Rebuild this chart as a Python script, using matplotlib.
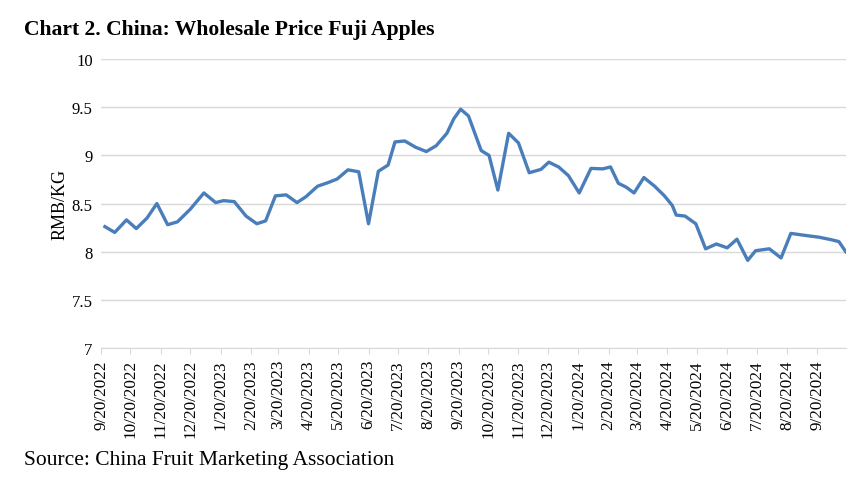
import matplotlib
matplotlib.use('Agg')
import matplotlib.pyplot as plt
import pandas as pd

plt.rcParams['font.family'] = ['Liberation Serif', 'DejaVu Serif']

dates = ['2022-09-24', '2022-10-04', '2022-10-16', '2022-10-26', '2022-11-06', '2022-11-16',
         '2022-11-27', '2022-12-07', '2022-12-20', '2023-01-03', '2023-01-15', '2023-01-23',
         '2023-02-03', '2023-02-15', '2023-02-26', '2023-03-07', '2023-03-17', '2023-03-28',
         '2023-04-08', '2023-04-17', '2023-04-29', '2023-05-09', '2023-05-19', '2023-05-30',
         '2023-06-10', '2023-06-20', '2023-06-30', '2023-07-10', '2023-07-17', '2023-07-27',
         '2023-08-07', '2023-08-18', '2023-08-28', '2023-09-08', '2023-09-15', '2023-09-22',
         '2023-09-30', '2023-10-13', '2023-10-21', '2023-10-30', '2023-11-10', '2023-11-20',
         '2023-12-01', '2023-12-13', '2023-12-21', '2023-12-31', '2024-01-10', '2024-01-21',
         '2024-02-02', '2024-02-14', '2024-02-22', '2024-03-01', '2024-03-09', '2024-03-17',
         '2024-03-27', '2024-04-07', '2024-04-17', '2024-04-25', '2024-04-29', '2024-05-08',
         '2024-05-19', '2024-05-29', '2024-06-09', '2024-06-20', '2024-06-30', '2024-07-11',
         '2024-07-19', '2024-08-02', '2024-08-14', '2024-08-24', '2024-09-07', '2024-09-22',
         '2024-10-04', '2024-10-12', '2024-10-19']
prices = [8.26, 8.20, 8.33, 8.24, 8.35, 8.50,
          8.28, 8.31, 8.44, 8.61, 8.51, 8.53,
          8.52, 8.37, 8.29, 8.32, 8.58, 8.59,
          8.51, 8.57, 8.68, 8.715, 8.755, 8.85,
          8.83, 8.29, 8.835, 8.90, 9.14, 9.15,
          9.085, 9.04, 9.10, 9.23, 9.38, 9.48,
          9.41, 9.05, 9.00, 8.64, 9.23, 9.13,
          8.82, 8.855, 8.93, 8.88, 8.79, 8.61,
          8.865, 8.86, 8.88, 8.71, 8.67, 8.61,
          8.77, 8.68, 8.58, 8.48, 8.38, 8.37,
          8.29, 8.03, 8.08, 8.04, 8.13, 7.91,
          8.01, 8.03, 7.935, 8.19, 8.17, 8.15,
          8.125, 8.105, 8.00]

x = pd.to_datetime(dates)

fig = plt.figure(figsize=(8.56, 4.81), dpi=100)
ax = fig.add_axes([0.118, 0.2745, 0.870, 0.6005])

ax.plot(x, prices, color='#4a7ebb', linewidth=2.4, solid_joinstyle='round', zorder=3)

ax.set_ylim(7, 10)
ax.set_yticks([7, 7.5, 8, 8.5, 9, 9.5, 10])
ax.set_yticklabels(['7', '7.5', '8', '8.5', '9', '9.5', '10'])
ax.set_xlim(pd.Timestamp('2022-09-20'), x[-1])

ticks = pd.date_range('2022-09-20', '2024-09-20', freq=pd.DateOffset(months=1))
ax.set_xticks(ticks)
ax.set_xticklabels([f'{t.month}/{t.day}/{t.year}' for t in ticks], rotation=90)

ax.grid(axis='y', color='#d9d9d9', linewidth=1.0)
ax.set_axisbelow(True)
for s in ['top', 'right', 'left']:
    ax.spines[s].set_visible(False)
ax.spines['bottom'].set_color('#d9d9d9')
ax.tick_params(axis='y', length=0, labelsize=12, pad=6)
ax.tick_params(axis='x', length=4, color='#d9d9d9', labelsize=12.3, pad=4)

ax.set_ylabel('RMB/KG', fontsize=13, labelpad=2)

fig.text(0.028, 0.937, 'Chart 2. China: Wholesale Price Fuji Apples', fontsize=15.6,
         fontweight='bold', ha='left', va='center')
fig.text(0.028, 0.042, 'Source: China Fruit Marketing Association', fontsize=15.5,
         ha='left', va='center')

fig.savefig('out.png', dpi=100)
